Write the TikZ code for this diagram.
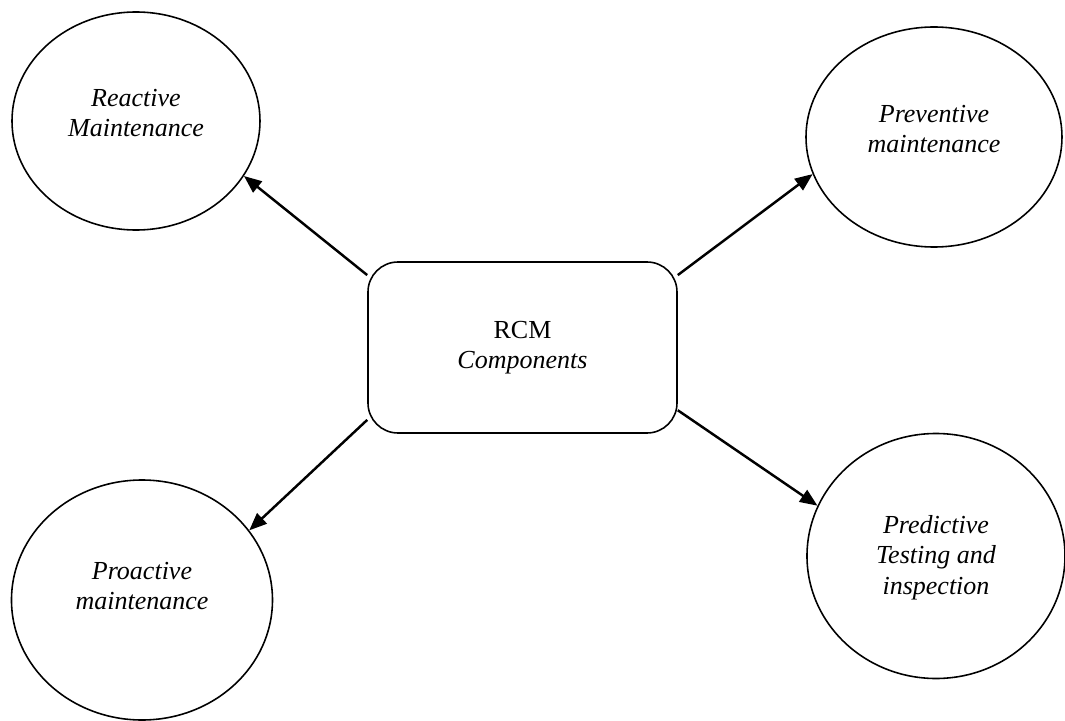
\documentclass[tikz,border=0pt]{standalone}
\usepackage{fontspec}
\setmainfont{Liberation Serif}
\usepackage{tikz}
\usetikzlibrary{shapes.geometric, positioning, arrows.meta}

% lift the text a little inside its ellipse
\newcommand{\liftlines}[2]{\raisebox{#1}[\height][\depth]{\begin{tabular}{@{}c@{}}#2\end{tabular}}}

\begin{document}
\begin{tikzpicture}[node distance=2cm,on grid,
    comp/.style={ellipse,draw,line width=0.9pt,inner sep=0pt,
        font=\fontsize{14.8}{17.2}\selectfont\itshape},
    hub/.style={rectangle,rounded corners=0.6cm,draw,line width=0.9pt,align=center,
        minimum width=6.18cm,minimum height=3.42cm,font=\fontsize{14.8}{17.2}\selectfont},
    >={Triangle[length=10pt,width=8pt]}]
       \useasboundingbox (-10.45,-7.45) rectangle (10.85,6.95);
       \node[hub] (rcm) {RCM\\\textit{Components}};
       \node[comp,minimum width=4.96cm,minimum height=4.36cm] (reactive)
            [above left=4.53cm and 7.73cm of rcm] {\liftlines{3pt}{Reactive\\Maintenance}};
       \node[comp,minimum width=5.12cm,minimum height=4.4cm] (preventive)
            [above right=4.21cm and 8.23cm of rcm] {\liftlines{3pt}{Preventive\\maintenance}};
       \node[comp,minimum width=5.22cm,minimum height=4.8cm] (proactive)
            [below left=5.05cm and 7.61cm of rcm] {\liftlines{6.5pt}{Proactive\\maintenance}};
       \node[comp,minimum width=5.16cm,minimum height=4.9cm] (predictive)
            [below right=4.17cm and 8.27cm of rcm] {\liftlines{-1pt}{Predictive\\Testing and\\inspection}};
        \path[->,line width=1.4pt]
        (rcm.155) edge (reactive.-27)
        (rcm.25.4) edge (preventive.197.5)
        (rcm.205.1) edge (proactive.33.5)
        (rcm.-22.3) edge (predictive.157.7);
\end{tikzpicture}
\end{document}
